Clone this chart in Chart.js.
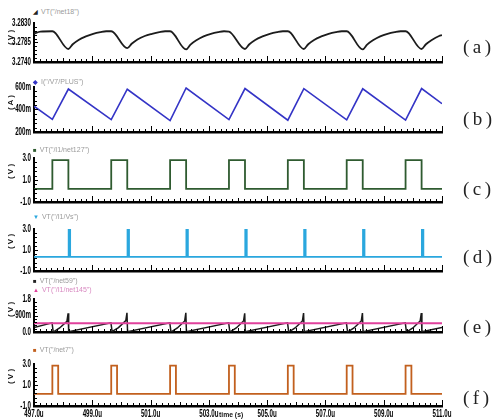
<!DOCTYPE html>
<html><head><meta charset="utf-8">
<script src="https://cdn.jsdelivr.net/npm/chart.js@4.4.1/dist/chart.umd.min.js"></script>
<style>
body{margin:0;width:497px;height:420px;background:#fff;position:relative;overflow:hidden;font-family:'Liberation Sans',sans-serif}
.cv{position:absolute;left:0}
.lbl{position:absolute;left:463px;font-family:'Liberation Serif',serif;font-size:19px;letter-spacing:3.5px;color:#222;line-height:20px}
.leg{position:absolute;left:33px;font-size:7px;color:#9a9a9a;white-space:nowrap;line-height:8px}
.leg b{font-size:6px;margin-right:3px}
.yt{position:absolute;font:bold 8px 'Liberation Sans',sans-serif;transform:rotate(-90deg);white-space:nowrap;color:#111}
.tt{position:absolute;font:bold 8px 'Liberation Sans',sans-serif;color:#111;transform:scale(0.85,1);transform-origin:left top}
</style></head><body>
<script>
// ---- data (time in microseconds) ----
const xTickValues = [497, 499, 501, 503, 505, 507, 509, 511];
const xTickLabels = ['497.0u', '499.0u', '501.0u', '503.0u', '505.0u', '507.0u', '509.0u', '511.0u'];

// (a) VT("/net18")
const tA = [497.00, 497.22,
  497.63, 498.18, 498.33, 498.53, 498.78, 499.03, 499.28, 499.48,
  499.65, 500.20, 500.35, 500.55, 500.80, 501.05, 501.30, 501.50,
  501.67, 502.22, 502.37, 502.57, 502.82, 503.07, 503.32, 503.52,
  503.69, 504.24, 504.39, 504.59, 504.84, 505.09, 505.34, 505.54,
  505.71, 506.26, 506.41, 506.61, 506.86, 507.11, 507.36, 507.56,
  507.73, 508.28, 508.43, 508.63, 508.88, 509.13, 509.38, 509.58,
  509.75, 510.30, 510.45, 510.65, 510.90, 511.00];
const vA = [3.28055, 3.2810,
  3.2811, 3.2770, 3.2781, 3.2791, 3.2799, 3.2805, 3.2809, 3.2811,
  3.2811, 3.2772, 3.2782, 3.2792, 3.2800, 3.2805, 3.2809, 3.2811,
  3.2811, 3.2769, 3.2780, 3.2790, 3.2799, 3.2805, 3.2809, 3.2811,
  3.2810, 3.2770, 3.2781, 3.2791, 3.2799, 3.2805, 3.2809, 3.2811,
  3.2811, 3.2770, 3.2781, 3.2791, 3.2799, 3.2805, 3.2809, 3.2811,
  3.2811, 3.2769, 3.2780, 3.2790, 3.2799, 3.2805, 3.2809, 3.2811,
  3.2811, 3.2770, 3.2781, 3.2791, 3.2800, 3.2802];
const yTicksA = [3.2740, 3.2785, 3.2830], yLabelsA = ['3.2740', '3.2785', '3.2830'];

// (b) I("/V7/PLUS")
const tB = [497.00, 497.63, 498.18, 499.65, 500.20, 501.67, 502.22, 503.69, 504.24, 505.71, 506.26, 507.73, 508.28, 509.75, 510.30, 511.00];
const vB = [0.429, 0.313, 0.582, 0.310, 0.580, 0.302, 0.591, 0.310, 0.586, 0.305, 0.585, 0.308, 0.584, 0.306, 0.586, 0.452];
const yTicksB = [0.2, 0.4, 0.6], yLabelsB = ['200m', '400m', '600m'];

// (c) VT("/I1/net127")
const tC = [497.00, 497.63, 498.18, 499.65, 500.20, 501.67, 502.22, 503.69, 504.24, 505.71, 506.26, 507.73, 508.28, 509.75, 510.30, 511.00];
const vC = [0.2, 2.8, 0.2, 2.8, 0.2, 2.8, 0.2, 2.8, 0.2, 2.8, 0.2, 2.8, 0.2, 2.8, 0.2, 0.2];

// (d) VT("/I1/Vs")
const tD = [497.00, 498.19, 498.24, 500.21, 500.26, 502.23, 502.28, 504.25, 504.30, 506.27, 506.32, 508.29, 508.34, 510.31, 510.36, 511.00];
const vD = [0.35, 3.0, 0.35, 3.0, 0.35, 3.0, 0.35, 3.0, 0.35, 3.0, 0.35, 3.0, 0.35, 3.0, 0.35, 0.35];
const yTicksV = [-1, 1, 3], yLabelsV = ['-1.0', '1.0', '3.0'];

// (e) VT("/net59")
const tE = [497.00,
  497.62, 497.66, 497.71, 497.88, 498.13, 498.17, 498.19,
  499.64, 499.68, 499.73, 499.90, 500.15, 500.19, 500.21,
  501.66, 501.70, 501.75, 501.92, 502.17, 502.21, 502.23,
  503.68, 503.72, 503.77, 503.94, 504.19, 504.23, 504.25,
  505.70, 505.74, 505.79, 505.96, 506.21, 506.25, 506.27,
  507.72, 507.76, 507.81, 507.98, 508.23, 508.27, 508.29,
  509.74, 509.78, 509.83, 510.00, 510.25, 510.29, 510.31,
  511.00];
const vE = [0.25,
  0.50, 0.00, 0.05, 0.22, 0.58, 1.02, 0.02,
  0.50, 0.02, 0.07, 0.24, 0.62, 1.05, 0.02,
  0.50, 0.00, 0.05, 0.22, 0.60, 1.05, 0.02,
  0.50, 0.00, 0.05, 0.22, 0.60, 1.02, 0.02,
  0.50, 0.00, 0.05, 0.22, 0.60, 1.03, 0.02,
  0.50, 0.00, 0.05, 0.22, 0.60, 1.03, 0.02,
  0.50, 0.00, 0.05, 0.22, 0.60, 1.03, 0.02,
  0.25];
// (e) VT("/I1/net145")
const tM = [497.00, 511.00];
const vM = [0.48, 0.48];
const yTicksE = [0, 0.9, 1.8], yLabelsE = ['0.0', '900m', '1.8'];

// (f) VT("/net7")
const tF = [497.00, 497.63, 497.83, 499.65, 499.85, 501.67, 501.87, 503.69, 503.89, 505.71, 505.91, 507.73, 507.93, 509.75, 509.95, 511.00];
const vF = [0.15, 2.85, 0.15, 2.85, 0.15, 2.85, 0.15, 2.85, 0.15, 2.85, 0.15, 2.85, 0.15, 2.85, 0.15, 0.15];

// ---- drawing ----
const W = 497, PLOT_L = 34, PLOT_R = 442;
const pts = (t, v) => t.map((x, i) => ({x, y: v[i]}));

function condensedText(ctx, text, x, y, align) {
  const sx = 0.62;
  ctx.save();
  ctx.translate(x, y);
  ctx.scale(sx, 1);
  ctx.textAlign = align;
  ctx.textBaseline = 'middle';
  ctx.fillText(text, 0, 0);
  ctx.restore();
}

const axisDecor = {
  id: 'axisDecor',
  afterDraw(chart, args, opts) {
    const {ctx, chartArea: a, scales: {x, y}} = chart;
    ctx.save();
    ctx.strokeStyle = '#000';
    ctx.lineWidth = 1;
    ctx.beginPath();
    for (let i = 0; i <= 70; i++) {
      const v = 497 + i * 0.2;
      const px = Math.round(x.getPixelForValue(v)) + 0.5;
      const len = (i % 10 === 0) ? 6 : (i % 5 === 0 ? 4 : 3);
      ctx.moveTo(px, a.bottom);
      ctx.lineTo(px, a.bottom - len);
    }
    const n = 10;
    for (let i = 1; i < n; i++) {
      const v = y.min + (y.max - y.min) * i / n;
      const py = Math.round(y.getPixelForValue(v)) + 0.5;
      ctx.moveTo(a.left, py);
      ctx.lineTo(a.left + (i % 5 === 0 ? 4 : 3), py);
    }
    ctx.stroke();
    ctx.fillStyle = '#000';
    ctx.font = "bold 10px 'Liberation Sans', sans-serif";
    opts.yTicks.forEach((v, i) => condensedText(ctx, opts.yLabels[i], a.left - 3, y.getPixelForValue(v), 'right'));
    if (opts.showX) {
      xTickValues.forEach((v, i) => condensedText(ctx, xTickLabels[i], x.getPixelForValue(v), a.bottom + 8, 'center'));
    }
    ctx.restore();
  }
};

function panel(top, bottom, ymin, ymax, yTicks, yLabels, datasets, showX) {
  const padTop = 7, xh = showX ? 16 : 0, padBottom = showX ? 0 : 4;
  const h = (bottom - top) + padTop + xh + padBottom;
  const c = document.createElement('canvas');
  c.width = W; c.height = h; c.className = 'cv';
  c.style.top = (top - padTop) + 'px';
  c.style.width = W + 'px'; c.style.height = h + 'px';
  document.body.appendChild(c);
  new Chart(c, {
    type: 'line',
    data: {datasets},
    options: {
      responsive: false, animation: false, devicePixelRatio: 1,
      layout: {padding: {top: padTop, right: W - PLOT_R, bottom: padBottom, left: 0}},
      plugins: {legend: {display: false}, tooltip: {enabled: false}, axisDecor: {yTicks, yLabels, showX}},
      elements: {point: {radius: 0}, line: {tension: 0}},
      scales: {
        x: {
          type: 'linear', min: 497, max: 511,
          afterBuildTicks: s => { s.ticks = xTickValues.map(v => ({value: v})); },
          afterFit: s => { s.height = xh; },
          grid: {display: false},
          border: {display: true, color: '#000', width: 2.5},
          ticks: {display: false}
        },
        y: {
          min: ymin, max: ymax,
          afterBuildTicks: s => { s.ticks = yTicks.map(v => ({value: v})); },
          afterFit: s => { s.width = PLOT_L; },
          grid: {display: false},
          border: {display: true, color: '#000', width: 2},
          ticks: {display: false}
        }
      }
    },
    plugins: [axisDecor]
  });
}

function ds(t, v, color, extra) {
  return Object.assign({data: pts(t, v), borderColor: color, borderWidth: 1.6, pointRadius: 0, fill: false}, extra || {});
}

panel(23, 62, 3.2740, 3.2830, yTicksA, yLabelsA,
  [ds(tA, vA, '#1c1c1c', {cubicInterpolationMode: 'monotone', borderWidth: 1.8})], false);
panel(87, 132, 0.2, 0.6, yTicksB, yLabelsB,
  [ds(tB, vB, '#3434c6')], false);
panel(158, 202, -1, 3, yTicksV, yLabelsV,
  [ds(tC, vC, '#2f5b30', {stepped: 'before', borderWidth: 1.8})], false);
panel(228.5, 271, -1, 3, yTicksV, yLabelsV,
  [ds(tD, vD, '#2aa7de', {stepped: 'before', borderWidth: 1.8})], false);
panel(299, 332, 0, 1.8, yTicksE, yLabelsE,
  [ds(tM, vM, '#e0409c', {borderWidth: 2}), ds(tE, vE, '#1a1a1a', {borderWidth: 1.5})], false);
panel(363.5, 406, -1, 3, yTicksV, yLabelsV,
  [ds(tF, vF, '#c2601e', {stepped: 'before', borderWidth: 1.8})], true);
</script>

<div class="leg" style="top:8px"><b style="color:#222">&#9698;</b>VT("/net18")</div>
<div class="leg" style="top:78px"><b style="color:#3434c6">&#9670;</b>I("/V7/PLUS")</div>
<div class="leg" style="top:146px"><b style="color:#2f5b30">&#9632;</b>VT("/I1/net127")</div>
<div class="leg" style="top:213px"><b style="color:#2aa7de">&#9660;</b>VT("/I1/Vs")</div>
<div class="leg" style="top:277px"><b style="color:#222">&#9632;</b>VT("/net59")</div>
<div class="leg" style="top:286px;color:#d888c0"><b style="color:#e0409c">&#9650;</b>VT("/I1/net145")</div>
<div class="leg" style="top:346px"><b style="color:#c2601e">&#9632;</b>VT("/net7")</div>

<div class="yt" style="left:-1px;top:33px;width:22px;text-align:center">( V )</div>
<div class="yt" style="left:-1px;top:98px;width:22px;text-align:center">( A )</div>
<div class="yt" style="left:-1px;top:167px;width:22px;text-align:center">( V )</div>
<div class="yt" style="left:-1px;top:237px;width:22px;text-align:center">( V )</div>
<div class="yt" style="left:-1px;top:305px;width:22px;text-align:center">( V )</div>
<div class="yt" style="left:-1px;top:372px;width:22px;text-align:center">( V )</div>

<div class="tt" style="left:219px;top:410px">time (s)</div>

<div class="lbl" style="top:37px">(a)</div>
<div class="lbl" style="top:109px">(b)</div>
<div class="lbl" style="top:179px">(c)</div>
<div class="lbl" style="top:247px">(d)</div>
<div class="lbl" style="top:317px">(e)</div>
<div class="lbl" style="top:388px">(f)</div>
</body></html>
